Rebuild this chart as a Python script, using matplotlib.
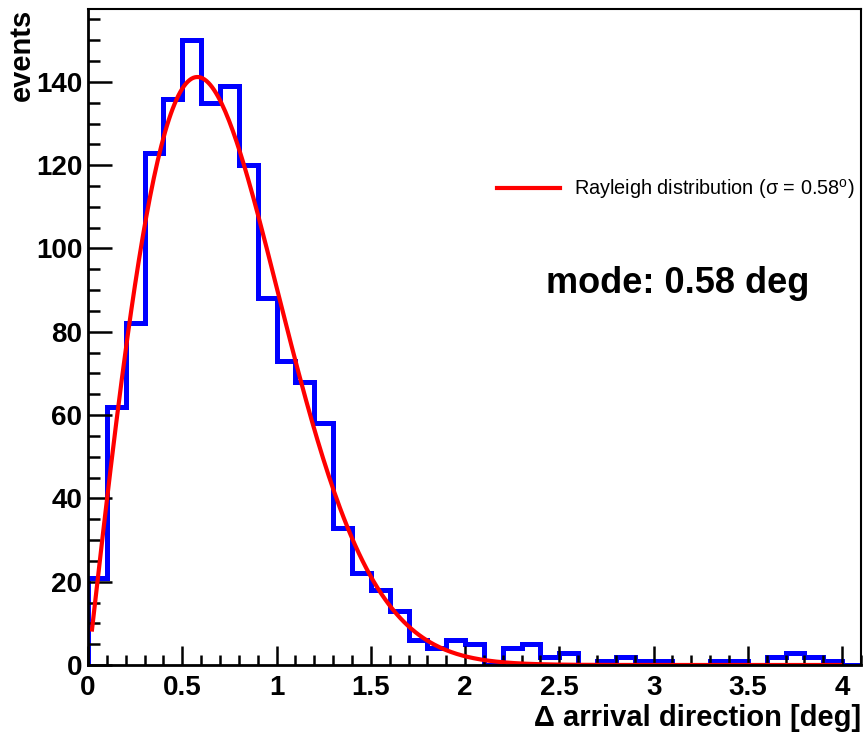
import numpy as np
import matplotlib
matplotlib.use("Agg")
import matplotlib.pyplot as plt
from matplotlib.ticker import MultipleLocator, FuncFormatter

# histogram of angular differences, 0.1 deg bins from 0 to 4.1
bin_edges = np.linspace(0.0, 4.1, 42)
counts = [21, 62, 82, 123, 136, 150, 135, 139, 120, 88,
          73, 68, 58, 33, 22, 18, 13, 6, 4, 6,
          5, 0, 4, 5, 2, 3, 0, 1, 2, 1,
          1, 0, 0, 1, 1, 0, 2, 3, 2, 1,
          0]

# Rayleigh fit parameters (normalisation in events per bin, sigma in deg)
fit_norm = 135.0
fit_sigma = 0.58
fit_range = (0.02, 4.0)

plt.rcParams["font.family"] = ["Liberation Sans", "DejaVu Sans"]
plt.rcParams["mathtext.fontset"] = "custom"
plt.rcParams["mathtext.rm"] = "Liberation Sans"


def rayleigh(x, norm, sigma):
    return norm * x / sigma**2 * np.exp(-x**2 / (2 * sigma**2))


fig = plt.figure(figsize=(8.65, 7.36), dpi=100)
ax = fig.add_axes([88 / 865, 1 - 665 / 736, 773 / 865, 656 / 736])

ax.stairs(counts, bin_edges, color="#0000ff", lw=3.6, baseline=0)

xf = np.linspace(fit_range[0], fit_range[1], 400)
ax.plot(xf, rayleigh(xf, fit_norm, fit_sigma), color="#ff0000", lw=3.0,
        label="Rayleigh distribution (σ = 0.58$^{\\mathregular{o}}$)")

ax.set_xlim(0, 4.1)
ax.set_ylim(0, 157.5)

ax.xaxis.set_major_locator(MultipleLocator(0.5))
ax.xaxis.set_minor_locator(MultipleLocator(0.1))
ax.yaxis.set_major_locator(MultipleLocator(20))
ax.yaxis.set_minor_locator(MultipleLocator(5))
ax.xaxis.set_major_formatter(FuncFormatter(lambda v, p: "%g" % v))

ax.tick_params(axis="both", which="both", direction="in", top=False,
               right=False, width=1.8, colors="black")
ax.tick_params(axis="x", which="major", length=14, pad=7)
ax.tick_params(axis="x", which="minor", length=7)
ax.tick_params(axis="y", which="major", length=17, pad=4)
ax.tick_params(axis="y", which="minor", length=8.5)
for lab in ax.get_xticklabels() + ax.get_yticklabels():
    lab.set_fontsize(20)
    lab.set_fontweight("bold")

for side in ("left", "bottom"):
    ax.spines[side].set_linewidth(2.0)
for side in ("top", "right"):
    ax.spines[side].set_linewidth(1.5)

ax.set_xlabel("Δ arrival direction [deg]", loc="right", fontsize=21,
              fontweight="bold", labelpad=2)
ax.set_ylabel("events", loc="top", fontsize=21, fontweight="bold",
              labelpad=0)

ax.legend(loc="center left", bbox_to_anchor=(0.529, 0.7256), frameon=False,
          fontsize=14.3, handlelength=3.2, handletextpad=0.7, borderpad=0,
          borderaxespad=0)
ax.lines[0].set_solid_capstyle("butt")

ax.text(0.5925, 0.567, "mode: 0.58 deg", transform=ax.transAxes,
        fontsize=26, fontweight="bold", ha="left", va="baseline")

fig.savefig("out.png", dpi=100)
